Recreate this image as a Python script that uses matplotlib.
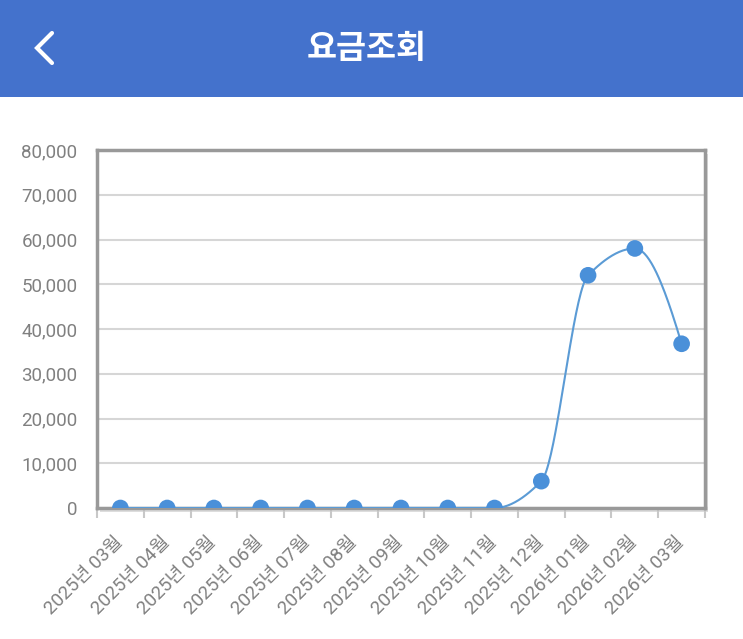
import numpy as np
import matplotlib
matplotlib.use("Agg")
import matplotlib.pyplot as plt
import matplotlib.patheffects as pe
import matplotlib.transforms as mtransforms
from matplotlib.patches import Rectangle
from matplotlib.lines import Line2D
from matplotlib.ticker import FuncFormatter, MultipleLocator

plt.rcParams['font.family'] = ['Roboto', 'Noto Sans CJK KR', 'DejaVu Sans']

# 월별 요금 데이터
months = ["2025년 03월", "2025년 04월", "2025년 05월", "2025년 06월", "2025년 07월",
          "2025년 08월", "2025년 09월", "2025년 10월", "2025년 11월", "2025년 12월",
          "2026년 01월", "2026년 02월", "2026년 03월"]
charges = [0, 0, 0, 0, 0, 0, 0, 0, 0, 6000, 52000, 58000, 36700]

title = "요금조회"
line_color = "#5b9bd5"
marker_color = "#4a90d9"
header_color = "#4472cc"


# 단조 3차 보간 (PCHIP) - 부드러운 선을 그리기 위함
def pchip_curve(y, n=40):
    y = np.asarray(y, dtype=float)
    x = np.arange(len(y), dtype=float)
    m = np.diff(y)
    d = np.zeros_like(y)
    for k in range(1, len(y) - 1):
        if m[k - 1] * m[k] > 0:
            d[k] = 2.0 / (1.0 / m[k - 1] + 1.0 / m[k])
    # 끝점
    def end_slope(m0, m1):
        s = (3 * m0 - m1) / 2.0
        if np.sign(s) != np.sign(m0):
            return 0.0
        if np.sign(m0) != np.sign(m1) and abs(s) > abs(3 * m0):
            return 3 * m0
        return s
    d[0] = end_slope(m[0], m[1])
    d[-1] = end_slope(m[-1], m[-2])
    xs, ys = [], []
    for k in range(len(y) - 1):
        t = np.linspace(0, 1, n)
        h00 = 2 * t**3 - 3 * t**2 + 1
        h10 = t**3 - 2 * t**2 + t
        h01 = -2 * t**3 + 3 * t**2
        h11 = t**3 - t**2
        xs.append(x[k] + t)
        ys.append(h00 * y[k] + h10 * d[k] + h01 * y[k + 1] + h11 * d[k + 1])
    return np.concatenate(xs), np.concatenate(ys)


fig = plt.figure(figsize=(7.43, 6.39), dpi=100)
fig.patch.set_facecolor("white")

# 상단 헤더
fig.patches.append(Rectangle((0, 0.848), 1, 0.152, transform=fig.transFigure,
                             facecolor=header_color, edgecolor="none", zorder=0))
fig.text(0.493, 0.924, title, color="white", fontsize=23.5, fontweight="bold",
         ha="center", va="center", family=['Noto Sans CJK KR', 'DejaVu Sans'])
fig.lines.append(Line2D([52 / 743, 37 / 743, 52 / 743],
                        [1 - 33 / 639, 1 - 48 / 639, 1 - 63 / 639],
                        transform=fig.transFigure, color="white", lw=3,
                        solid_capstyle="round", solid_joinstyle="miter"))

ax_l, ax_b, ax_w, ax_h = 97 / 743, 131 / 639, 608 / 743, 358 / 639
# 그림자
fig.patches.append(Rectangle((ax_l + 3 / 743, ax_b - 4 / 639), ax_w, ax_h,
                             transform=fig.transFigure, facecolor="#dddddd",
                             edgecolor="none", zorder=0.5))
ax = fig.add_axes([ax_l, ax_b, ax_w, ax_h])
ax.set_zorder(1)
ax.set_facecolor("white")

cx, cy = pchip_curve(charges)
ax.plot(cx, cy, color=line_color, lw=1.5, zorder=3)
ax.plot(range(len(charges)), charges, linestyle="none", marker="o", ms=12,
        color=marker_color, markeredgewidth=0, zorder=4,
        path_effects=[pe.SimpleLineShadow(offset=(1.5, -1.5), alpha=0.25, shadow_color="#555555"),
                      pe.Normal()])

ax.set_xlim(-0.5, len(charges) - 0.5)
ax.set_ylim(0, 80000)
ax.yaxis.set_major_locator(MultipleLocator(10000))
ax.yaxis.set_major_formatter(FuncFormatter(lambda v, p: f"{int(v):,}"))
ax.grid(axis="y", color="#d6d6d6", lw=1.5)
ax.set_axisbelow(True)

ax.set_xticks(range(len(months)))
ax.set_xticklabels(months, rotation=45, ha="right")
ax.set_xticks(np.arange(-0.5, len(months)), minor=True)
ax.tick_params(axis="x", which="major", length=0, pad=18, labelsize=13.5, labelcolor="#808080")
ax.tick_params(axis="x", which="minor", length=7, width=1.5, color="#c8c8c8")
ax.tick_params(axis="y", length=0, pad=14, labelsize=13.5, labelcolor="#808080")

# 라벨을 약간 오른쪽으로
shift = mtransforms.ScaledTranslation(6 / 100, 0, fig.dpi_scale_trans)
for lbl in ax.get_xticklabels():
    lbl.set_transform(lbl.get_transform() + shift)

for s in ax.spines.values():
    s.set_color("#999999")
    s.set_linewidth(2.5)

fig.savefig("out.png", dpi=100)
